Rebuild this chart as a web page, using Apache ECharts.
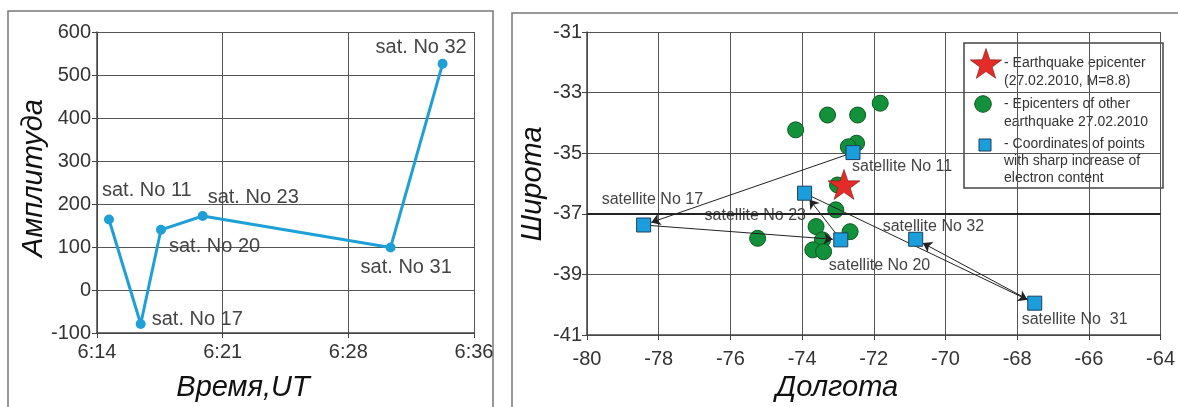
<!DOCTYPE html>
<html>
<head>
<meta charset="utf-8">
<script src="https://cdn.jsdelivr.net/npm/echarts@6/dist/echarts.min.js"></script>
<style>
html, body { margin: 0; padding: 0; background: #fff; }
#chart { width: 1178px; height: 407px; }
</style>
</head>
<body>
<div id="chart"></div>
<script>
// left panel: amplitude of TEC jump by satellite
var satNames = ['11', '17', '20', '23', '31', '32'];
var satTimes = ['6:14:42', '6:16:33', '6:17:44', '6:20:10', '6:31:08', '6:34:10'];
var amplitude = [164, -79, 140, 172, 99, 526];
var timeTicks = ['6:14', '6:21', '6:28', '6:36'];

// right panel: map coordinates
var satLon = [-72.58, -78.42, -72.92, -73.93, -67.51, -70.83];
var satLat = [-34.98, -37.37, -37.86, -36.32, -39.95, -37.84];
var satLabels = ['satellite No 11', 'satellite No 17', 'satellite No 20', 'satellite No 23', 'satellite No  31', 'satellite No 32'];
var quakeLon = [-72.83];
var quakeLat = [-36.03];
var otherLon = [-74.18, -73.29, -72.45, -71.82, -72.48, -72.71, -73.01, -73.06, -73.61, -72.66, -75.24, -73.43, -73.70, -73.40];
var otherLat = [-34.23, -33.74, -33.74, -33.35, -34.67, -34.79, -36.05, -36.87, -37.42, -37.59, -37.81, -37.86, -38.19, -38.25];

// label placement (px from point centre: left edge of text, text middle)
var leftOffsets = { '11': [-7, -29], '17': [11, -4], '20': [8, 17], '23': [5, -19], '31': [-30, 20], '32': [-67, -16] };
var rightOffsets = { '11': [-1, 14], '17': [-42, -25], '20': [-12, 26], '23': [-100, 22], '31': [-13, 16], '32': [-33, -13] };

var FONT = 'Liberation Sans, Arial, sans-serif';
var STAR = 'path://M50,0 L61.8,35.4 L99,35.4 L69,57.3 L80.4,92.7 L50,70.8 L19.6,92.7 L31,57.3 L1,35.4 L38.2,35.4 Z';

function toSec(t) {
	var p = t.split(':');
	return (+p[0]) * 3600 + (+p[1]) * 60 + (+(p[2] || 0));
}
var t0 = toSec(timeTicks[0]);
var tSpan = toSec(timeTicks[timeTicks.length - 1]) - t0;
var tStep = tSpan / (timeTicks.length - 1);

var ampData = satNames.map(function (n, i) {
	return {
		value: [toSec(satTimes[i]) - t0, amplitude[i]],
		label: { offset: leftOffsets[n] }
	};
});
var satData = satNames.map(function (n, i) {
	return {
		value: [satLon[i], satLat[i]],
		label: { offset: rightOffsets[n], formatter: satLabels[i] }
	};
});
var otherData = otherLon.map(function (x, i) { return [x, otherLat[i]]; });
var quakeData = quakeLon.map(function (x, i) { return [x, quakeLat[i]]; });

// legend star icon
function starPoints(cx, cy, ro, ri) {
	var pts = [];
	for (var k = 0; k < 10; k++) {
		var r = k % 2 ? ri : ro;
		var ang = -Math.PI / 2 + k * Math.PI / 5;
		pts.push([cx + r * Math.cos(ang), cy + r * Math.sin(ang)]);
	}
	return pts;
}

var gridLine = { show: true, lineStyle: { color: '#555', width: 1 } };
var axisLine = { show: true, onZero: false, lineStyle: { color: '#444', width: 1.5 } };
var tick = { show: true, length: 5, lineStyle: { color: '#444' } };

var option = {
	animation: false,
	backgroundColor: '#fff',
	grid: [
		{ left: 97, top: 32, width: 377, height: 301 },
		{ left: 587, top: 32, width: 580, height: 303 }
	],
	xAxis: [
		{
			gridIndex: 0, type: 'value', min: 0, max: tSpan, interval: tStep,
			axisLine: axisLine, axisTick: tick, splitLine: gridLine,
			axisLabel: {
				margin: 9, fontSize: 20, color: '#333', fontFamily: FONT,
				formatter: function (v) { return timeTicks[Math.round(v / tStep)]; }
			}
		},
		{
			gridIndex: 1, type: 'value', min: -80, max: -64, interval: 2,
			axisLine: axisLine, axisTick: tick, splitLine: gridLine,
			axisLabel: { margin: 14, fontSize: 20, color: '#333', fontFamily: FONT }
		}
	],
	yAxis: [
		{
			gridIndex: 0, type: 'value', min: -100, max: 600, interval: 100,
			axisLine: axisLine, axisTick: tick, splitLine: gridLine,
			axisLabel: { margin: 6, fontSize: 20, color: '#333', fontFamily: FONT }
		},
		{
			gridIndex: 1, type: 'value', min: -41, max: -31, interval: 2,
			axisLine: axisLine, axisTick: tick, splitLine: gridLine,
			axisLabel: { margin: 5, fontSize: 20, color: '#333', fontFamily: FONT }
		}
	],
	series: [
		{
			type: 'line', xAxisIndex: 0, yAxisIndex: 0,
			data: ampData,
			symbol: 'circle', symbolSize: 10,
			lineStyle: { color: '#1e9fd6', width: 3 },
			itemStyle: { color: '#1e9fd6' },
			label: {
				show: true, position: 'inside', align: 'left', verticalAlign: 'middle',
				fontSize: 20, color: '#444', fontFamily: FONT,
				formatter: function (p) { return 'sat. No ' + satNames[p.dataIndex]; }
			}
		},
		{
			type: 'scatter', xAxisIndex: 1, yAxisIndex: 1, z: 2,
			data: otherData, symbol: 'circle', symbolSize: 16,
			itemStyle: { color: '#12913a', borderColor: '#0b5a22', borderWidth: 1, opacity: 1 },
			markLine: {
				silent: true, symbol: 'none', label: { show: false },
				lineStyle: { color: '#222', width: 2, type: 'solid' },
				data: [{ yAxis: -37 }]
			}
		},
		{
			id: 'arrows', type: 'lines', coordinateSystem: 'cartesian2d',
			xAxisIndex: 1, yAxisIndex: 1, z: 3,
			symbol: ['none', 'arrow'], symbolSize: 9,
			lineStyle: { color: '#222', width: 1, opacity: 1 },
			data: []
		},
		{
			type: 'scatter', xAxisIndex: 1, yAxisIndex: 1, z: 4,
			data: satData, symbol: 'rect', symbolSize: 14,
			itemStyle: { color: '#1b9fdc', borderColor: '#1d3f5e', borderWidth: 1, opacity: 1 },
			label: {
				show: true, position: 'inside', align: 'left', verticalAlign: 'middle',
				fontSize: 16, color: '#444', fontFamily: FONT
			}
		},
		{
			type: 'scatter', xAxisIndex: 1, yAxisIndex: 1, z: 5,
			data: quakeData, symbol: STAR, symbolSize: [32, 30],
			itemStyle: { color: '#e32b27', borderColor: '#7a1212', borderWidth: 0.6, opacity: 1 }
		}
	],
	graphic: [
		// panel frames
		{ type: 'rect', shape: { x: 8, y: 11, width: 485, height: 420 }, style: { fill: null, stroke: '#777', lineWidth: 1.5 }, z: -1 },
		{ type: 'rect', shape: { x: 512, y: 13, width: 680, height: 420 }, style: { fill: null, stroke: '#777', lineWidth: 1.5 }, z: -1 },
		// axis titles
		{ type: 'text', x: 34, y: 178, rotation: Math.PI / 2, style: { text: 'Амплитуда', font: 'italic 29px ' + FONT, fill: '#111', align: 'center', verticalAlign: 'middle' } },
		{ type: 'text', x: 243, y: 388, style: { text: 'Время,UT', font: 'italic 29px ' + FONT, fill: '#111', align: 'center', verticalAlign: 'middle' } },
		{ type: 'text', x: 533, y: 184, rotation: Math.PI / 2, style: { text: 'Широта', font: 'italic 29px ' + FONT, fill: '#111', align: 'center', verticalAlign: 'middle' } },
		{ type: 'text', x: 837, y: 388, style: { text: 'Долгота', font: 'italic 29px ' + FONT, fill: '#111', align: 'center', verticalAlign: 'middle' } },
		// legend box
		{
			type: 'group', z: 10,
			children: [
				{ type: 'rect', shape: { x: 964, y: 43, width: 199, height: 145 }, style: { fill: '#fff', stroke: '#444', lineWidth: 1.5 } },
				{ type: 'polygon', shape: { points: starPoints(986, 65, 16.5, 6.5) }, style: { fill: '#e32b27', stroke: '#7a1212', lineWidth: 0.6 } },
				{ type: 'text', style: { x: 1004, y: 54, text: '- Earthquake epicenter\n(27.02.2010, M=8.8)', font: '14px ' + FONT, fill: '#333', lineHeight: 18, verticalAlign: 'top' } },
				{ type: 'circle', shape: { cx: 983, cy: 104, r: 8.3 }, style: { fill: '#12913a', stroke: '#0b5a22', lineWidth: 1 } },
				{ type: 'text', style: { x: 1004, y: 95, text: '- Epicenters of other\nearthquake 27.02.2010', font: '14px ' + FONT, fill: '#333', lineHeight: 18, verticalAlign: 'top' } },
				{ type: 'rect', shape: { x: 979, y: 139, width: 12, height: 12 }, style: { fill: '#1b9fdc', stroke: '#1d3f5e', lineWidth: 1 } },
				{ type: 'text', style: { x: 1004, y: 135.5, text: '- Coordinates of points\nwith sharp increase of\nelectron content', font: '14px ' + FONT, fill: '#333', lineHeight: 17, verticalAlign: 'top' } }
			]
		}
	]
};

var chart = echarts.init(document.getElementById('chart'));
chart.setOption(option);

// arrows between consecutive satellite points, trimmed to the square edges
var arrows = [];
for (var i = 0; i < satLon.length - 1; i++) {
	var p0 = chart.convertToPixel({ gridIndex: 1 }, [satLon[i], satLat[i]]);
	var p1 = chart.convertToPixel({ gridIndex: 1 }, [satLon[i + 1], satLat[i + 1]]);
	var dx = p1[0] - p0[0], dy = p1[1] - p0[1];
	var len = Math.sqrt(dx * dx + dy * dy);
	var a = [p0[0] + dx / len * 7, p0[1] + dy / len * 7];
	var b = [p1[0] - dx / len * 8, p1[1] - dy / len * 8];
	arrows.push({ coords: [chart.convertFromPixel({ gridIndex: 1 }, a), chart.convertFromPixel({ gridIndex: 1 }, b)] });
}
chart.setOption({ series: [{ id: 'arrows', data: arrows }] });
</script>
</body>
</html>
